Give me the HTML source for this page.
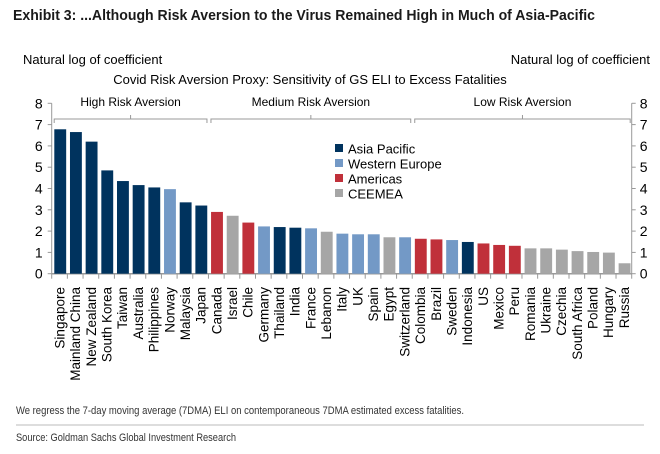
<!DOCTYPE html>
<html><head><meta charset="utf-8">
<style>
html,body{margin:0;padding:0;background:#fff;}
body{width:660px;height:449px;overflow:hidden;font-family:"Liberation Sans",sans-serif;}
svg text{font-family:"Liberation Sans",sans-serif;}
</style></head>
<body>
<svg id="chart" width="660" height="449" viewBox="0 0 660 449">
  <text x="13" y="20" font-size="14.5" font-weight="bold" fill="#1a1a1a" textLength="582" lengthAdjust="spacingAndGlyphs">Exhibit 3: ...Although Risk Aversion to the Virus Remained High in Much of Asia-Pacific</text>
  <text x="23" y="64" font-size="13" fill="#000">Natural log of coefficient</text>
  <text x="650" y="64" font-size="13" fill="#000" text-anchor="end">Natural log of coefficient</text>
  <text x="310" y="84" font-size="13" fill="#000" text-anchor="middle">Covid Risk Aversion Proxy: Sensitivity of GS ELI to Excess Fatalities</text>
  <g id="axes"></g>
  <g id="bars"></g>
  <g id="xlabels"></g>
  <g id="groups"></g>
  <g id="legend"></g>
  <text x="16" y="414" font-size="11" fill="#333" textLength="448" lengthAdjust="spacingAndGlyphs">We regress the 7-day moving average (7DMA) ELI on contemporaneous 7DMA estimated excess fatalities.</text>
  <line x1="16" y1="425" x2="644" y2="425" stroke="#bbb" stroke-width="1"/>
  <text x="16" y="441" font-size="11" fill="#333" textLength="220" lengthAdjust="spacingAndGlyphs">Source: Goldman Sachs Global Investment Research</text>
</svg>
<script>
const categories = ["Singapore","Mainland China","New Zealand","South Korea","Taiwan","Australia","Philippines","Norway","Malaysia","Japan","Canada","Israel","Chile","Germany","Thailand","India","France","Lebanon","Italy","UK","Spain","Egypt","Switzerland","Colombia","Brazil","Sweden","Indonesia","US","Mexico","Peru","Romania","Ukraine","Czechia","South Africa","Poland","Hungary","Russia"];
const values = [6.78,6.65,6.2,4.85,4.35,4.16,4.05,3.97,3.35,3.2,2.9,2.72,2.4,2.22,2.19,2.16,2.13,1.97,1.88,1.85,1.85,1.71,1.71,1.64,1.61,1.58,1.49,1.42,1.35,1.31,1.19,1.19,1.13,1.06,1.02,0.99,0.49];
const regions = ["AP","AP","AP","AP","AP","AP","AP","WE","AP","AP","AM","CE","AM","WE","AP","AP","WE","CE","WE","WE","WE","CE","WE","AM","AM","WE","AP","AM","AM","AM","CE","CE","CE","CE","CE","CE","CE"];
const regionKeys = ["AP","WE","AM","CE"];
const regionNames = ["Asia Pacific","Western Europe","Americas","CEEMEA"];
const regionColors = ["#00335e","#7399c6","#c0303a","#a6a6a6"];
const yTicks = [0,1,2,3,4,5,6,7,8];
const groupNames = ["High Risk Aversion","Medium Risk Aversion","Low Risk Aversion"];
const groupStart = [0,10,23];
const groupEnd = [9,22,36];

const NS="http://www.w3.org/2000/svg";
const X0=51.7, X1=631.7, Y0=273.7, Y8=103.3;
const pitch=(X1-X0)/categories.length;
function xs(i){return X0+i*pitch;}
function ys(v){return Y0-(v/8)*(Y0-Y8);}
function mk(tag,attrs,parent){const e=document.createElementNS(NS,tag);for(const k in attrs)e.setAttribute(k,attrs[k]);parent.appendChild(e);return e;}

const axes=document.getElementById('axes');
let e;
e=mk('line',{x1:X0,y1:Y8,x2:X0,y2:Y0,stroke:'#999','stroke-width':1},axes);


e=mk('line',{x1:X1,y1:Y8,x2:X1,y2:Y0,stroke:'#999','stroke-width':1},axes);


e=mk('line',{x1:X0,y1:Y0,x2:X1,y2:Y0,stroke:'#999','stroke-width':1.5},axes);


yTicks.forEach(t=>{
  const y=ys(t);
  mk('line',{x1:X0-4,y1:y,x2:X0,y2:y,stroke:'#999'},axes);
  mk('line',{x1:X1,y1:y,x2:X1+4,y2:y,stroke:'#999'},axes);
  e=mk('text',{x:X0-9,y:y+5,'font-size':14,'text-anchor':'end',fill:'#000'},axes);
  e.textContent=t;
  
  
  e=mk('text',{x:X1+8,y:y+5,'font-size':14,fill:'#000'},axes);
  e.textContent=t;
  
  
});
for(let i=0;i<=categories.length;i++){
  mk('line',{x1:xs(i),y1:Y0,x2:xs(i),y2:Y0+5,stroke:'#999'},axes);
}

const bars=document.getElementById('bars');
const xl=document.getElementById('xlabels');
categories.forEach((c,i)=>{
  const col=regionColors[regionKeys.indexOf(regions[i])];
  const b=mk('rect',{x:xs(i)+2.6,y:ys(values[i]),width:pitch-3.8,height:Y0-ys(values[i]),fill:col},bars);
  
  
  const cx=xs(i)+pitch/2+5;
  const t=mk('text',{x:cx,y:287,'font-size':13.5,'text-anchor':'end',fill:'#000',transform:`rotate(-90 ${cx} 287)`},xl);
  t.textContent=c;
  
  
});

const groups=document.getElementById('groups');
groupNames.forEach((g,k)=>{
  const a=xs(groupStart[k])+2.5, b=xs(groupEnd[k]+1)-1.5, m=(a+b)/2, y=119;
  const p=mk('path',{d:`M${a},${y+4}V${y}H${b}V${y+4}M${m},${y}V${y-4}`,fill:'none',stroke:'#999','stroke-width':1},groups);
  
  
  const t=mk('text',{x:m,y:106,'font-size':12,'text-anchor':'middle',fill:'#000'},groups);
  t.textContent=g;
  
  
});

const lg=document.getElementById('legend');
regionNames.forEach((n,k)=>{
  const y=149+k*15;
  const r=mk('rect',{x:335,y:y-5,width:8,height:8,fill:regionColors[k]},lg);
  
  
  const t=mk('text',{x:348,y:y+4.5,'font-size':13,fill:'#000'},lg);
  t.textContent=n;
  
  
});
</script>
</body></html>
